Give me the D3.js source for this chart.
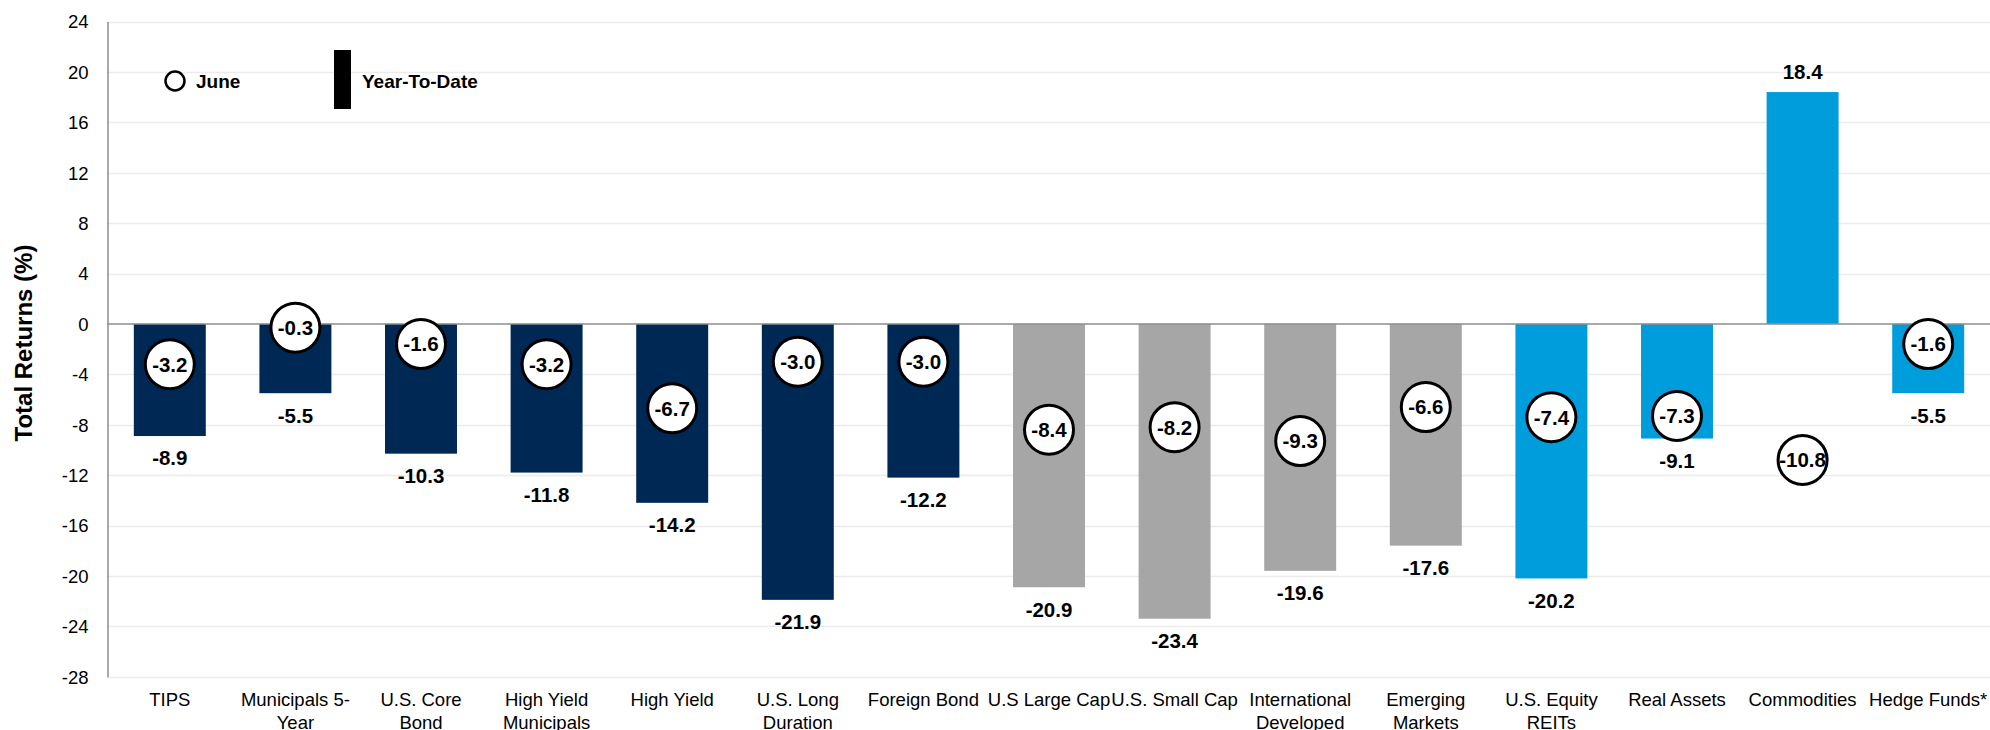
<!DOCTYPE html>
<html>
<head>
<meta charset="utf-8">
<script src="https://cdn.jsdelivr.net/npm/d3@7"></script>
<style>
  body { margin: 0; background: #fff; }
  text { font-family: "Liberation Sans", Arial, sans-serif; fill: #000; }
  .tick-label { font-size: 18.5px; }
  .val { font-size: 20.5px; font-weight: bold; }
</style>
</head>
<body>
<script>
//chart data
var categories = ["TIPS", "Municipals 5-Year", "U.S. Core Bond", "High Yield Municipals", "High Yield",
    "U.S. Long Duration", "Foreign Bond", "U.S Large Cap", "U.S. Small Cap", "International Developed",
    "Emerging Markets", "U.S. Equity REITs", "Real Assets", "Commodities", "Hedge Funds*"];
//how the axis labels break onto two lines
var tickLabels = ["TIPS", "Municipals 5-|Year", "U.S. Core|Bond", "High Yield|Municipals", "High Yield",
    "U.S. Long|Duration", "Foreign Bond", "U.S Large Cap", "U.S. Small Cap", "International|Developed",
    "Emerging|Markets", "U.S. Equity|REITs", "Real Assets", "Commodities", "Hedge Funds*"];
var ytd = [-8.9, -5.5, -10.3, -11.8, -14.2, -21.9, -12.2, -20.9, -23.4, -19.6, -17.6, -20.2, -9.1, 18.4, -5.5];
var june = [-3.2, -0.3, -1.6, -3.2, -6.7, -3.0, -3.0, -8.4, -8.2, -9.3, -6.6, -7.4, -7.3, -10.8, -1.6];
var group = ["fixed", "fixed", "fixed", "fixed", "fixed", "fixed", "fixed",
    "equity", "equity", "equity", "equity", "real", "real", "real", "real"];
var yTicks = [24, 20, 16, 12, 8, 4, 0, -4, -8, -12, -16, -20, -24, -28];

var w = 1990, h = 730;

var rows = categories.map(function(c, i){
    return {cat: c, label: tickLabels[i], ytd: ytd[i], june: june[i], group: group[i]};
});

//plain hyphen for negatives, like the original
var locale = d3.formatLocale({decimal: ".", thousands: ",", grouping: [3], currency: ["$", ""], minus: "-"});
var fmt1 = locale.format(".1f");
var fmtInt = locale.format("d");

var svg = d3.select("body")
    .append("svg")
    .attr("width", w)
    .attr("height", h);

//scales
var x = d3.scaleBand()
    .domain(categories)
    .range([107, 1991])
    .paddingInner(0.427)
    .paddingOuter(0.2135);

var y = d3.scaleLinear()
    .domain([-28, 24])
    .range([676.7, 21.5]);

var color = d3.scaleOrdinal()
    .domain(["fixed", "equity", "real"])
    .range(["#002855", "#a6a6a6", "#009ddc"]);

//gridlines
svg.append("g")
    .selectAll("line")
    .data(yTicks.filter(function(d){ return d !== 0; }))
    .enter()
    .append("line")
    .attr("x1", 107)
    .attr("x2", w)
    .attr("y1", function(d){ return Math.round(y(d)) + 0.5; })
    .attr("y2", function(d){ return Math.round(y(d)) + 0.5; })
    .style("stroke", "#ececec")
    .style("stroke-width", 1.5);

//y axis using d3.axisLeft, domain line and ticks restyled
var yAxis = d3.axisLeft(y)
    .tickValues(yTicks)
    .tickSize(0)
    .tickPadding(19)
    .tickFormat(fmtInt);

var axis = svg.append("g")
    .attr("transform", "translate(107.5,0)")
    .call(yAxis);
axis.select(".domain").style("stroke", "#8c8c8c").style("stroke-width", 1.5);
axis.selectAll("text")
    .attr("class", "tick-label")
    .style("font-family", "'Liberation Sans', Arial, sans-serif")
    .style("font-size", "18.5px")
    .attr("dy", "0.35em");

//bars
svg.selectAll(".bar")
    .data(rows)
    .enter()
    .append("rect")
    .attr("class", "bar")
    .attr("x", function(d){ return x(d.cat); })
    .attr("width", x.bandwidth())
    .attr("y", function(d){ return y(Math.max(0, d.ytd)); })
    .attr("height", function(d){ return Math.abs(y(d.ytd) - y(0)); })
    .style("fill", function(d){ return color(d.group); });

//zero line
svg.append("line")
    .attr("x1", 107)
    .attr("x2", w)
    .attr("y1", y(0))
    .attr("y2", y(0))
    .style("stroke", "#8c8c8c")
    .style("stroke-width", 1.5);

//year-to-date labels
svg.selectAll(".ytdLabel")
    .data(rows)
    .enter()
    .append("text")
    .attr("class", "val")
    .attr("text-anchor", "middle")
    .attr("x", function(d){ return x(d.cat) + x.bandwidth() / 2; })
    .attr("y", function(d){ return d.ytd < 0 ? y(d.ytd) + 22 : y(d.ytd) - 20; })
    .attr("dy", "0.36em")
    .text(function(d){ return fmt1(d.ytd); });

//june circles
var marks = svg.selectAll(".june")
    .data(rows)
    .enter()
    .append("g")
    .attr("class", "june")
    .attr("transform", function(d){
        return "translate(" + (x(d.cat) + x.bandwidth() / 2) + "," + y(d.june) + ")";
    });

marks.append("circle")
    .attr("r", 24.5)
    .style("fill", "#fff")
    .style("stroke", "#000")
    .style("stroke-width", 3);

marks.append("text")
    .attr("class", "val")
    .attr("text-anchor", "middle")
    .attr("dy", "0.36em")
    .text(function(d){ return fmt1(d.june); });

//category labels
var catLabels = svg.selectAll(".cat")
    .data(rows)
    .enter()
    .append("text")
    .attr("class", "tick-label")
    .attr("text-anchor", "middle")
    .attr("y", 706);

catLabels.selectAll("tspan")
    .data(function(d){
        return d.label.split("|").map(function(t){ return {t: t, cx: x(d.cat) + x.bandwidth() / 2}; });
    })
    .enter()
    .append("tspan")
    .attr("x", function(d){ return d.cx; })
    .attr("dy", function(d, i){ return i === 0 ? 0 : 22.5; })
    .text(function(d){ return d.t; });

//y axis title
svg.append("text")
    .attr("transform", "translate(32,343) rotate(-90)")
    .attr("text-anchor", "middle")
    .style("font-size", "24px")
    .style("font-weight", "bold")
    .text("Total Returns (%)");

//legend
svg.append("circle")
    .attr("cx", 175)
    .attr("cy", 81)
    .attr("r", 9.5)
    .style("fill", "#fff")
    .style("stroke", "#000")
    .style("stroke-width", 2.5);

svg.append("text")
    .attr("x", 196)
    .attr("y", 88)
    .style("font-size", "19px")
    .style("font-weight", "bold")
    .text("June");

svg.append("rect")
    .attr("x", 334)
    .attr("y", 50)
    .attr("width", 17)
    .attr("height", 59)
    .style("fill", "#000");

svg.append("text")
    .attr("x", 362)
    .attr("y", 88)
    .style("font-size", "19px")
    .style("font-weight", "bold")
    .text("Year-To-Date");
</script>
</body>
</html>
